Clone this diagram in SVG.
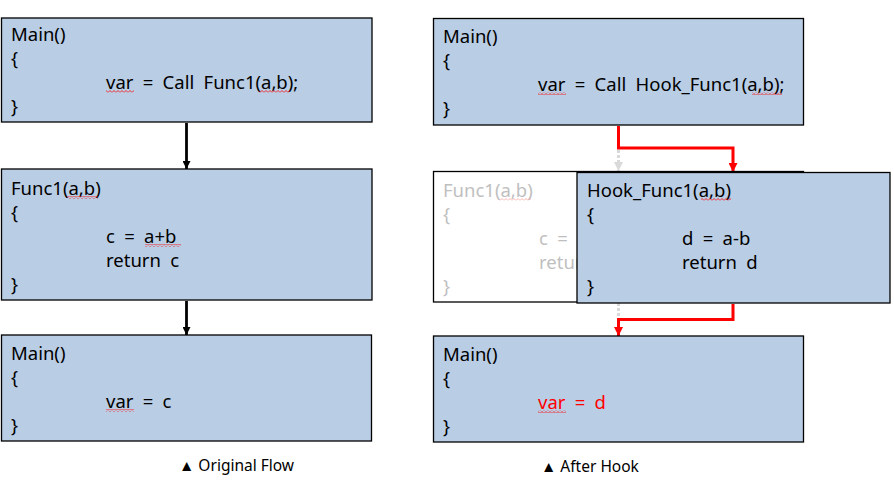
<svg xmlns="http://www.w3.org/2000/svg" width="894" height="498" viewBox="0 0 894 498">
<style>
.box{fill:#B9CDE5;stroke:#000;stroke-width:1.3}
.wbox{fill:#fff;stroke:#000;stroke-width:1.3}
text{font-family:"Noto Sans","Liberation Sans",sans-serif;font-size:18.5px;fill:#000;word-spacing:4.5px}
.g{fill:#bfbfbf}
.r{fill:#ff0000}
.cap{font-size:15.5px;word-spacing:0}
.blk{fill:none;stroke:#000;stroke-width:2.8}
.red{fill:none;stroke:#ff0000;stroke-width:3}
.gry{fill:none;stroke:#d9d9d9;stroke-width:3;stroke-dasharray:3 2}
</style>
<defs>
<pattern id="sq" width="4" height="3" patternUnits="userSpaceOnUse">
<path d="M0,2.5 L2,0.5 L4,2.5" fill="none" stroke="#ff0000" stroke-width="0.8"/>
</pattern>
<pattern id="sqg" width="4" height="3" patternUnits="userSpaceOnUse">
<path d="M0,2.5 L2,0.5 L4,2.5" fill="none" stroke="#f2a0a0" stroke-width="0.8"/>
</pattern>
<marker id="ab" markerWidth="8" markerHeight="8" refX="8" refY="4" orient="auto" markerUnits="userSpaceOnUse">
<path d="M0,0 L8,4 L0,8 Z" fill="#000"/>
</marker>
<marker id="ar" markerWidth="9" markerHeight="9" refX="9" refY="4.5" orient="auto" markerUnits="userSpaceOnUse">
<path d="M0,0 L9,4.5 L0,9 Z" fill="#ff0000"/>
</marker>
<marker id="ag" markerWidth="9" markerHeight="9" refX="9" refY="4.5" orient="auto" markerUnits="userSpaceOnUse">
<path d="M0,0 L9,4.5 L0,9 Z" fill="#d9d9d9"/>
</marker>
</defs>
<rect width="894" height="498" fill="#fff"/>

<g id="connectors">
<path class="blk" d="M186.5,123 V169" marker-end="url(#ab)"/>
<path class="blk" d="M186.5,301 V335" marker-end="url(#ab)"/>
<path class="gry" d="M618.5,150 V171" marker-end="url(#ag)"/>
<path class="gry" d="M618.5,303 V318"/>
<path class="red" d="M618.5,126 V148 H733 V172" marker-end="url(#ar)"/>
<path class="red" d="M733,304 V319.5 H618.5 V336" marker-end="url(#ar)"/>
</g>

<g id="left-main1">
<rect class="box" x="1.5" y="18" width="370.5" height="104"/>
<text x="11" y="41">Main()</text>
<text x="11" y="65">{</text>
<text x="106" y="89">var = Call Func1(a,b);</text>
<text x="11" y="113">}</text>
<rect x="106" y="90" width="28" height="3" fill="url(#sq)"/>
<rect x="259" y="90" width="31" height="3" fill="url(#sq)"/>
</g>

<g id="left-func1">
<rect class="box" x="1.5" y="169" width="370.5" height="131"/>
<text x="11" y="195">Func1(a,b)</text>
<text x="11" y="219">{</text>
<text x="106" y="243">c = a+b</text>
<text x="106" y="267">return c</text>
<text x="11" y="291">}</text>
<rect x="67" y="196" width="31" height="3" fill="url(#sq)"/>
<rect x="145" y="244" width="36" height="3" fill="url(#sq)"/>
</g>

<g id="left-main2">
<rect class="box" x="1.5" y="335" width="370" height="106"/>
<text x="11" y="360">Main()</text>
<text x="11" y="384">{</text>
<text x="106" y="408">var = c</text>
<text x="11" y="432">}</text>
<rect x="106" y="409" width="28" height="3" fill="url(#sq)"/>
</g>

<g id="right-main1">
<rect class="box" x="433.5" y="18.5" width="370" height="106.5"/>
<text x="443" y="43">Main()</text>
<text x="443" y="67">{</text>
<text x="538" y="91">var = Call Hook_Func1(a,b);</text>
<text x="443" y="115">}</text>
<rect x="538" y="92" width="28" height="3" fill="url(#sq)"/>
<rect x="752" y="92" width="30" height="3" fill="url(#sq)"/>
</g>

<g id="right-func1">
<rect class="wbox" x="433.5" y="171.5" width="370" height="130.5"/>
<text class="g" x="443" y="197">Func1(a,b)</text>
<text class="g" x="443" y="221">{</text>
<text class="g" x="539" y="245">c = a+b</text>
<text class="g" x="539" y="269">return c</text>
<text class="g" x="443" y="293">}</text>
<rect x="499" y="198" width="32" height="3" fill="url(#sqg)"/>
</g>

<g id="right-hook">
<rect class="box" x="577" y="172.5" width="313" height="130.5"/>
<text x="587" y="197">Hook_Func1(a,b)</text>
<text x="587" y="221">{</text>
<text x="682" y="245">d = a-b</text>
<text x="682" y="269">return d</text>
<text x="587" y="293">}</text>
<rect x="701" y="198" width="30" height="3" fill="url(#sq)"/>
</g>

<g id="right-main2">
<rect class="box" x="433.5" y="336" width="370" height="106"/>
<text x="443" y="361">Main()</text>
<text x="443" y="385">{</text>
<text class="r" x="538" y="409">var = d</text>
<text x="443" y="433">}</text>
<rect x="538" y="410" width="28" height="3" fill="url(#sq)"/>
</g>

<g id="captions">
<text class="cap" x="179" y="471">▲ Original Flow</text>
<text class="cap" x="541" y="472">▲ After Hook</text>
</g>
</svg>
